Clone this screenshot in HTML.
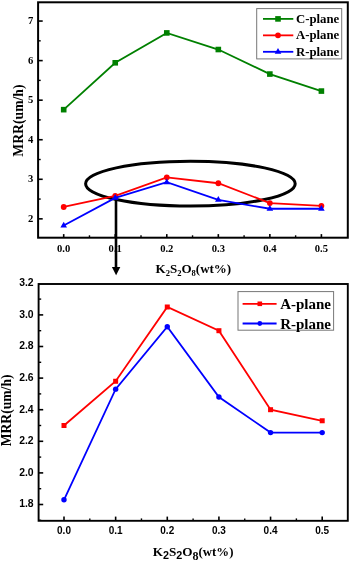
<!DOCTYPE html>
<html><head><meta charset="utf-8"><style>
html,body{margin:0;padding:0;background:#fff;}
body{width:350px;height:561px;overflow:hidden;}
svg{display:block;filter:blur(0.25px);}
</style></head><body>
<svg width="350" height="561" viewBox="0 0 350 561">
<rect x="38.1" y="2.3" width="309.7" height="235.39999999999998" fill="none" stroke="#000" stroke-width="2.0"/>
<line x1="38.1" y1="218.85" x2="42.7" y2="218.85" stroke="#000" stroke-width="1.6"/>
<text x="33.2" y="222.05" font-family='"Liberation Serif", serif' font-weight="bold" font-size="10.6" text-anchor="end">2</text>
<line x1="38.1" y1="179.29" x2="42.7" y2="179.29" stroke="#000" stroke-width="1.6"/>
<text x="33.2" y="182.49" font-family='"Liberation Serif", serif' font-weight="bold" font-size="10.6" text-anchor="end">3</text>
<line x1="38.1" y1="139.73" x2="42.7" y2="139.73" stroke="#000" stroke-width="1.6"/>
<text x="33.2" y="142.93" font-family='"Liberation Serif", serif' font-weight="bold" font-size="10.6" text-anchor="end">4</text>
<line x1="38.1" y1="100.17" x2="42.7" y2="100.17" stroke="#000" stroke-width="1.6"/>
<text x="33.2" y="103.37" font-family='"Liberation Serif", serif' font-weight="bold" font-size="10.6" text-anchor="end">5</text>
<line x1="38.1" y1="60.61" x2="42.7" y2="60.61" stroke="#000" stroke-width="1.6"/>
<text x="33.2" y="63.81" font-family='"Liberation Serif", serif' font-weight="bold" font-size="10.6" text-anchor="end">6</text>
<line x1="38.1" y1="21.05" x2="42.7" y2="21.05" stroke="#000" stroke-width="1.6"/>
<text x="33.2" y="24.25" font-family='"Liberation Serif", serif' font-weight="bold" font-size="10.6" text-anchor="end">7</text>
<line x1="38.1" y1="199.07" x2="40.7" y2="199.07" stroke="#000" stroke-width="1.4"/>
<line x1="38.1" y1="159.51" x2="40.7" y2="159.51" stroke="#000" stroke-width="1.4"/>
<line x1="38.1" y1="119.95" x2="40.7" y2="119.95" stroke="#000" stroke-width="1.4"/>
<line x1="38.1" y1="80.39" x2="40.7" y2="80.39" stroke="#000" stroke-width="1.4"/>
<line x1="38.1" y1="40.83" x2="40.7" y2="40.83" stroke="#000" stroke-width="1.4"/>
<line x1="63.70" y1="237.7" x2="63.70" y2="234.1" stroke="#000" stroke-width="1.6"/>
<text x="63.70" y="251.6" font-family='"Liberation Serif", serif' font-weight="bold" font-size="10.6" text-anchor="middle">0.0</text>
<line x1="115.24" y1="237.7" x2="115.24" y2="234.1" stroke="#000" stroke-width="1.6"/>
<text x="115.24" y="251.6" font-family='"Liberation Serif", serif' font-weight="bold" font-size="10.6" text-anchor="middle">0.1</text>
<line x1="166.78" y1="237.7" x2="166.78" y2="234.1" stroke="#000" stroke-width="1.6"/>
<text x="166.78" y="251.6" font-family='"Liberation Serif", serif' font-weight="bold" font-size="10.6" text-anchor="middle">0.2</text>
<line x1="218.32" y1="237.7" x2="218.32" y2="234.1" stroke="#000" stroke-width="1.6"/>
<text x="218.32" y="251.6" font-family='"Liberation Serif", serif' font-weight="bold" font-size="10.6" text-anchor="middle">0.3</text>
<line x1="269.86" y1="237.7" x2="269.86" y2="234.1" stroke="#000" stroke-width="1.6"/>
<text x="269.86" y="251.6" font-family='"Liberation Serif", serif' font-weight="bold" font-size="10.6" text-anchor="middle">0.4</text>
<line x1="321.40" y1="237.7" x2="321.40" y2="234.1" stroke="#000" stroke-width="1.6"/>
<text x="321.40" y="251.6" font-family='"Liberation Serif", serif' font-weight="bold" font-size="10.6" text-anchor="middle">0.5</text>
<line x1="89.47" y1="237.7" x2="89.47" y2="235.29999999999998" stroke="#000" stroke-width="1.4"/>
<line x1="141.01" y1="237.7" x2="141.01" y2="235.29999999999998" stroke="#000" stroke-width="1.4"/>
<line x1="192.55" y1="237.7" x2="192.55" y2="235.29999999999998" stroke="#000" stroke-width="1.4"/>
<line x1="244.09" y1="237.7" x2="244.09" y2="235.29999999999998" stroke="#000" stroke-width="1.4"/>
<line x1="295.63" y1="237.7" x2="295.63" y2="235.29999999999998" stroke="#000" stroke-width="1.4"/>
<ellipse cx="190.4" cy="183.7" rx="104.8" ry="22.4" fill="none" stroke="#000" stroke-width="3.0"/>
<line x1="116" y1="198" x2="116" y2="268" stroke="#000" stroke-width="2.6"/>
<polygon points="111.9,267.0 120.3,267.0 116.1,275.2" fill="#000"/>
<polyline points="63.70,109.66 115.24,62.79 166.78,32.92 218.32,49.53 269.86,74.06 321.40,91.07" fill="none" stroke="#008000" stroke-width="1.8" stroke-linejoin="miter"/>
<rect x="60.90" y="106.86" width="5.6" height="5.6" fill="#008000"/>
<rect x="112.44" y="59.99" width="5.6" height="5.6" fill="#008000"/>
<rect x="163.98" y="30.12" width="5.6" height="5.6" fill="#008000"/>
<rect x="215.52" y="46.73" width="5.6" height="5.6" fill="#008000"/>
<rect x="267.06" y="71.26" width="5.6" height="5.6" fill="#008000"/>
<rect x="318.60" y="88.27" width="5.6" height="5.6" fill="#008000"/>
<polyline points="63.70,206.98 115.24,195.91 166.78,177.31 218.32,183.25 269.86,203.03 321.40,205.80" fill="none" stroke="#ff0000" stroke-width="1.8" stroke-linejoin="miter"/>
<circle cx="63.70" cy="206.98" r="2.9" fill="#ff0000"/>
<circle cx="115.24" cy="195.91" r="2.9" fill="#ff0000"/>
<circle cx="166.78" cy="177.31" r="2.9" fill="#ff0000"/>
<circle cx="218.32" cy="183.25" r="2.9" fill="#ff0000"/>
<circle cx="269.86" cy="203.03" r="2.9" fill="#ff0000"/>
<circle cx="321.40" cy="205.80" r="2.9" fill="#ff0000"/>
<polyline points="63.70,225.58 115.24,197.88 166.78,182.26 218.32,199.86 269.86,208.76 321.40,208.76" fill="none" stroke="#0000ff" stroke-width="1.8" stroke-linejoin="miter"/>
<polygon points="60.40,227.51 67.00,227.51 63.70,221.70" fill="#0000ff"/>
<polygon points="111.94,199.82 118.54,199.82 115.24,194.01" fill="#0000ff"/>
<polygon points="163.48,184.19 170.08,184.19 166.78,178.38" fill="#0000ff"/>
<polygon points="215.02,201.80 221.62,201.80 218.32,195.99" fill="#0000ff"/>
<polygon points="266.56,210.70 273.16,210.70 269.86,204.89" fill="#0000ff"/>
<polygon points="318.10,210.70 324.70,210.70 321.40,204.89" fill="#0000ff"/>
<rect x="256.7" y="8.6" width="85.0" height="50.3" fill="#fff" stroke="#777" stroke-width="1"/>
<line x1="263" y1="18.90" x2="293.3" y2="18.90" stroke="#008000" stroke-width="1.8"/>
<rect x="275.20" y="16.10" width="5.6" height="5.6" fill="#008000"/>
<text x="295.9" y="22.90" font-family='"Liberation Serif", serif' font-weight="bold" font-size="12.8">C-plane</text>
<line x1="263" y1="35.35" x2="293.3" y2="35.35" stroke="#ff0000" stroke-width="1.8"/>
<circle cx="278.00" cy="35.35" r="2.9" fill="#ff0000"/>
<text x="295.9" y="39.35" font-family='"Liberation Serif", serif' font-weight="bold" font-size="12.8">A-plane</text>
<line x1="263" y1="51.80" x2="293.3" y2="51.80" stroke="#0000ff" stroke-width="1.8"/>
<polygon points="274.70,53.74 281.30,53.74 278.00,47.93" fill="#0000ff"/>
<text x="295.9" y="55.80" font-family='"Liberation Serif", serif' font-weight="bold" font-size="12.8">R-plane</text>
<text transform="translate(22.6,120.6) rotate(-90)" font-family='"Liberation Serif", serif' font-weight="bold" font-size="13.7" text-anchor="middle">MRR(um/h)</text>
<text x="155.6" y="273" font-family='"Liberation Serif", serif' font-weight="bold" font-size="13">K<tspan font-size="8.5" dy="3.2">2</tspan><tspan dy="-3.2">S</tspan><tspan font-size="8.5" dy="3.2">2</tspan><tspan dy="-3.2">O</tspan><tspan font-size="8.5" dy="3.2">8</tspan><tspan dy="-3.2">(wt%)</tspan></text>
<rect x="38.6" y="284.0" width="309.2" height="236.79999999999995" fill="none" stroke="#000" stroke-width="1.9"/>
<line x1="38.6" y1="504.50" x2="43.2" y2="504.50" stroke="#000" stroke-width="1.6"/>
<text x="33.6" y="507.30" font-family='"Liberation Sans", sans-serif' font-weight="bold" font-size="10.4" text-anchor="end">1.8</text>
<line x1="38.6" y1="472.90" x2="43.2" y2="472.90" stroke="#000" stroke-width="1.6"/>
<text x="33.6" y="475.70" font-family='"Liberation Sans", sans-serif' font-weight="bold" font-size="10.4" text-anchor="end">2.0</text>
<line x1="38.6" y1="441.30" x2="43.2" y2="441.30" stroke="#000" stroke-width="1.6"/>
<text x="33.6" y="444.10" font-family='"Liberation Sans", sans-serif' font-weight="bold" font-size="10.4" text-anchor="end">2.2</text>
<line x1="38.6" y1="409.70" x2="43.2" y2="409.70" stroke="#000" stroke-width="1.6"/>
<text x="33.6" y="412.50" font-family='"Liberation Sans", sans-serif' font-weight="bold" font-size="10.4" text-anchor="end">2.4</text>
<line x1="38.6" y1="378.10" x2="43.2" y2="378.10" stroke="#000" stroke-width="1.6"/>
<text x="33.6" y="380.90" font-family='"Liberation Sans", sans-serif' font-weight="bold" font-size="10.4" text-anchor="end">2.6</text>
<line x1="38.6" y1="346.50" x2="43.2" y2="346.50" stroke="#000" stroke-width="1.6"/>
<text x="33.6" y="349.30" font-family='"Liberation Sans", sans-serif' font-weight="bold" font-size="10.4" text-anchor="end">2.8</text>
<line x1="38.6" y1="314.90" x2="43.2" y2="314.90" stroke="#000" stroke-width="1.6"/>
<text x="33.6" y="317.70" font-family='"Liberation Sans", sans-serif' font-weight="bold" font-size="10.4" text-anchor="end">3.0</text>
<text x="33.6" y="286.10" font-family='"Liberation Sans", sans-serif' font-weight="bold" font-size="10.4" text-anchor="end">3.2</text>
<line x1="38.6" y1="520.30" x2="41.2" y2="520.30" stroke="#000" stroke-width="1.4"/>
<line x1="38.6" y1="488.70" x2="41.2" y2="488.70" stroke="#000" stroke-width="1.4"/>
<line x1="38.6" y1="457.10" x2="41.2" y2="457.10" stroke="#000" stroke-width="1.4"/>
<line x1="38.6" y1="425.50" x2="41.2" y2="425.50" stroke="#000" stroke-width="1.4"/>
<line x1="38.6" y1="393.90" x2="41.2" y2="393.90" stroke="#000" stroke-width="1.4"/>
<line x1="38.6" y1="362.30" x2="41.2" y2="362.30" stroke="#000" stroke-width="1.4"/>
<line x1="38.6" y1="330.70" x2="41.2" y2="330.70" stroke="#000" stroke-width="1.4"/>
<line x1="38.6" y1="299.10" x2="41.2" y2="299.10" stroke="#000" stroke-width="1.4"/>
<line x1="64.00" y1="520.8" x2="64.00" y2="516.5999999999999" stroke="#000" stroke-width="1.6"/>
<text x="64.00" y="534.1" font-family='"Liberation Sans", sans-serif' font-weight="bold" font-size="10" text-anchor="middle">0.0</text>
<line x1="115.64" y1="520.8" x2="115.64" y2="516.5999999999999" stroke="#000" stroke-width="1.6"/>
<text x="115.64" y="534.1" font-family='"Liberation Sans", sans-serif' font-weight="bold" font-size="10" text-anchor="middle">0.1</text>
<line x1="167.28" y1="520.8" x2="167.28" y2="516.5999999999999" stroke="#000" stroke-width="1.6"/>
<text x="167.28" y="534.1" font-family='"Liberation Sans", sans-serif' font-weight="bold" font-size="10" text-anchor="middle">0.2</text>
<line x1="218.92" y1="520.8" x2="218.92" y2="516.5999999999999" stroke="#000" stroke-width="1.6"/>
<text x="218.92" y="534.1" font-family='"Liberation Sans", sans-serif' font-weight="bold" font-size="10" text-anchor="middle">0.3</text>
<line x1="270.56" y1="520.8" x2="270.56" y2="516.5999999999999" stroke="#000" stroke-width="1.6"/>
<text x="270.56" y="534.1" font-family='"Liberation Sans", sans-serif' font-weight="bold" font-size="10" text-anchor="middle">0.4</text>
<line x1="322.20" y1="520.8" x2="322.20" y2="516.5999999999999" stroke="#000" stroke-width="1.6"/>
<text x="322.20" y="534.1" font-family='"Liberation Sans", sans-serif' font-weight="bold" font-size="10" text-anchor="middle">0.5</text>
<line x1="89.82" y1="520.8" x2="89.82" y2="518.4" stroke="#000" stroke-width="1.4"/>
<line x1="141.46" y1="520.8" x2="141.46" y2="518.4" stroke="#000" stroke-width="1.4"/>
<line x1="193.10" y1="520.8" x2="193.10" y2="518.4" stroke="#000" stroke-width="1.4"/>
<line x1="244.74" y1="520.8" x2="244.74" y2="518.4" stroke="#000" stroke-width="1.4"/>
<line x1="296.38" y1="520.8" x2="296.38" y2="518.4" stroke="#000" stroke-width="1.4"/>
<polyline points="64.00,425.50 115.64,381.26 167.28,307.00 218.92,330.70 270.56,409.70 322.20,420.76" fill="none" stroke="#ff0000" stroke-width="1.8" stroke-linejoin="miter"/>
<rect x="61.50" y="423.00" width="5.0" height="5.0" fill="#ff0000"/>
<rect x="113.14" y="378.76" width="5.0" height="5.0" fill="#ff0000"/>
<rect x="164.78" y="304.50" width="5.0" height="5.0" fill="#ff0000"/>
<rect x="216.42" y="328.20" width="5.0" height="5.0" fill="#ff0000"/>
<rect x="268.06" y="407.20" width="5.0" height="5.0" fill="#ff0000"/>
<rect x="319.70" y="418.26" width="5.0" height="5.0" fill="#ff0000"/>
<polyline points="64.00,499.76 115.64,389.16 167.28,326.75 218.92,397.06 270.56,432.61 322.20,432.61" fill="none" stroke="#0000ff" stroke-width="1.8" stroke-linejoin="miter"/>
<circle cx="64.00" cy="499.76" r="2.7" fill="#0000ff"/>
<circle cx="115.64" cy="389.16" r="2.7" fill="#0000ff"/>
<circle cx="167.28" cy="326.75" r="2.7" fill="#0000ff"/>
<circle cx="218.92" cy="397.06" r="2.7" fill="#0000ff"/>
<circle cx="270.56" cy="432.61" r="2.7" fill="#0000ff"/>
<circle cx="322.20" cy="432.61" r="2.7" fill="#0000ff"/>
<rect x="238" y="291.6" width="95.6" height="38.6" fill="#fff" stroke="#777" stroke-width="1"/>
<line x1="242.6" y1="303.80" x2="276.6" y2="303.80" stroke="#ff0000" stroke-width="1.8"/>
<rect x="257.50" y="301.50" width="4.6" height="4.6" fill="#ff0000"/>
<text x="280.2" y="308.80" font-family='"Liberation Serif", serif' font-weight="bold" font-size="15">A-plane</text>
<line x1="242.6" y1="323.50" x2="276.6" y2="323.50" stroke="#0000ff" stroke-width="1.8"/>
<circle cx="259.80" cy="323.50" r="2.4" fill="#0000ff"/>
<text x="280.2" y="328.50" font-family='"Liberation Serif", serif' font-weight="bold" font-size="15">R-plane</text>
<text transform="translate(10.5,410.4) rotate(-90)" font-family='"Liberation Serif", serif' font-weight="bold" font-size="13.6" text-anchor="middle">MRR(um/h)</text>
<text x="152.7" y="556.1" font-family='"Liberation Serif", serif' font-weight="bold" font-size="13.2">K<tspan font-family='"Liberation Sans", sans-serif' font-size="10.8" dy="3.3">2</tspan><tspan dy="-3.3">S</tspan><tspan font-family='"Liberation Sans", sans-serif' font-size="10.8" dy="3.3">2</tspan><tspan dy="-3.3">O</tspan><tspan font-size="12" dy="3.5">8</tspan><tspan font-size="12.8" dy="-3.5">(wt%)</tspan></text>
</svg>
</body></html>
